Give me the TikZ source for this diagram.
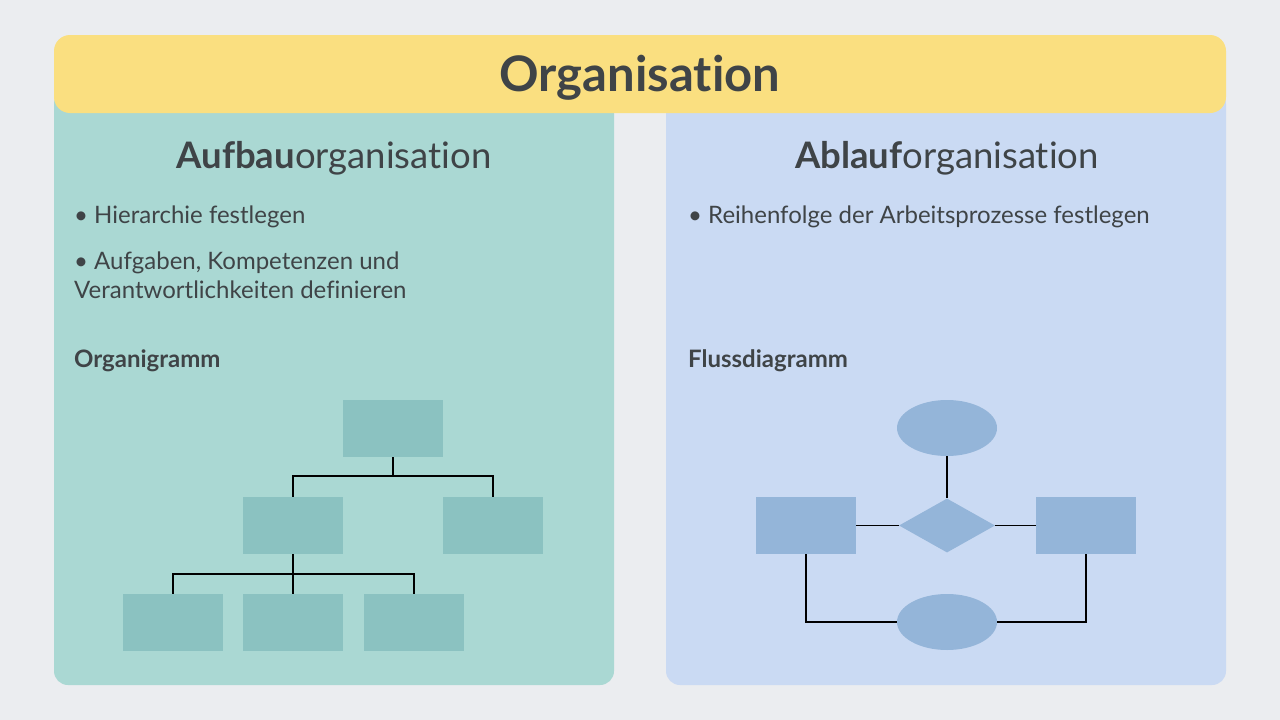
\documentclass[tikz,border=0pt]{standalone}
\usepackage{fontspec}
\setmainfont{Lato}[Ligatures={NoCommon}]
\usetikzlibrary{shapes.geometric,positioning}
\definecolor{bg}{HTML}{EBEDF0}
\definecolor{bar}{HTML}{FADF80}
\definecolor{leftpanel}{HTML}{AAD8D3}
\definecolor{rightpanel}{HTML}{CADAF3}
\definecolor{orgbox}{HTML}{8BC2C1}
\definecolor{flowbox}{HTML}{94B5D9}
\definecolor{ink}{HTML}{3F4447}
\tikzset{
	orgblock/.style={rectangle, fill=orgbox, minimum width=100pt, minimum height=57pt, inner sep=0pt},
	flowblock/.style={rectangle, fill=flowbox, minimum width=100pt, minimum height=57pt, inner sep=0pt},
	term/.style={ellipse, fill=flowbox, minimum width=100pt, minimum height=56pt, inner sep=0pt},
	choice/.style={diamond, fill=flowbox, minimum width=96pt, minimum height=54pt, inner sep=0pt, aspect=1.8},
	link/.style={line width=1.5pt, black},
	heading/.style={text=ink, font=\fontsize{36.5}{42}\selectfont},
	bullet/.style={text=ink, anchor=north west, align=left, inner sep=0pt, font=\fontsize{24}{29}\selectfont},
	caption/.style={text=ink, anchor=west, inner sep=0pt, font=\fontsize{24}{28}\selectfont\bfseries},
}
\begin{document}
\begin{tikzpicture}[x=1pt,y=-1pt]
\fill[bg] (0,0) rectangle (1280,720);
\useasboundingbox (0,0) rectangle (1280,720);
% panels
\fill[leftpanel, rounded corners=14pt] (54,90) rectangle (614,685);
\fill[rightpanel, rounded corners=14pt] (666,90) rectangle (1226,685);
\fill[bar, rounded corners=16pt] (54,35) rectangle (1226,113);
\node (title) at (640,78) [text=ink, font=\fontsize{49}{55}\selectfont\bfseries] {Organisation};
\node (aufbau) at (334,158) [heading] {\textbf{Aufbau}organisation};
\node (ablauf) at (947,158) [heading] {\textbf{Ablauf}organisation};
\node (b1) at (74,206) [bullet] {• Hierarchie festlegen};
\node (b2) at (74,252) [bullet] {• Aufgaben, Kompetenzen und\\Verantwortlichkeiten definieren};
\node (b3) at (688,206) [bullet] {• Reihenfolge der Arbeitsprozesse festlegen};
\node (organi) at (74,361) [caption] {Organigramm};
\node (fluss) at (688,361) [caption] {Flussdiagramm};
% Organigramm
\node (top) at (393,428.5) [orgblock] {};
\node (midl) at (293,525.5) [orgblock] {};
\node (midr) at (493,525.5) [orgblock] {};
\node (lowa) at (173,622.5) [orgblock] {};
\node (lowb) at (293,622.5) [orgblock] {};
\node (lowc) at (414,622.5) [orgblock] {};
\coordinate (j1) at (393,476);
\coordinate (j2) at (293,574);
\draw[link] (top.south) -- (j1);
\foreach \n in {midl,midr}
\draw[link] (j1) -| (\n.north);
\draw[link] (midl.south) -- (j2);
\foreach \n in {lowa,lowb,lowc}
\draw[link] (j2) -| (\n.north);
% Flussdiagramm
\node (start) at (947,428) [term] {};
\node (check) at (947,525.5) [choice] {};
\node (left) at (806,525.5) [flowblock] {};
\node (right) at (1086,525.5) [flowblock] {};
\node (stop) at (947,622) [term] {};
\draw[link] (start) -- (check);
\draw[link] (left) -- (check);
\draw[link] (right) -- (check);
\draw[link] (left.south) |- (stop.west);
\draw[link] (right.south) |- (stop.east);
\end{tikzpicture}
\end{document}
